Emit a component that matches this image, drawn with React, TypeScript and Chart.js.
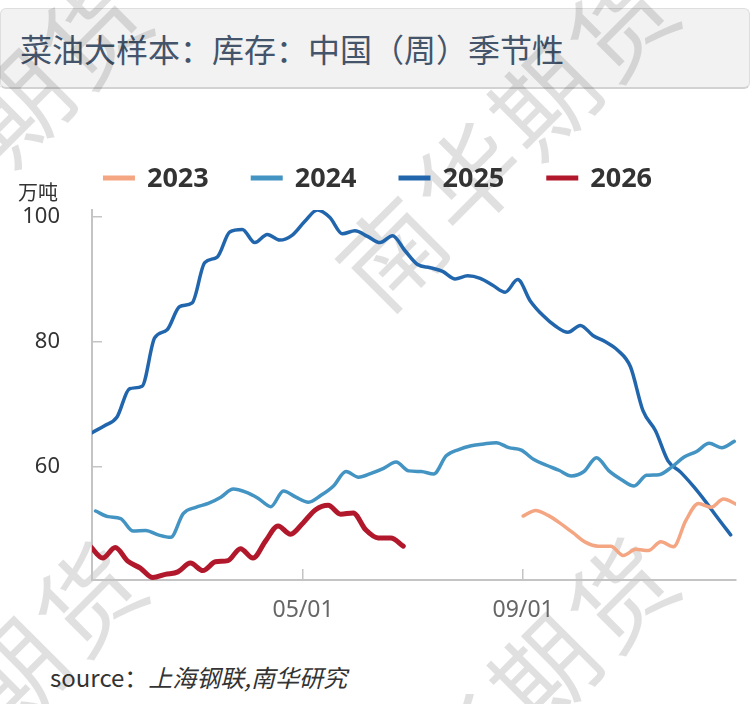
import React, { useEffect, useRef } from "react";
import { Chart, registerables } from "chart.js";

Chart.register(...registerables);

// ---------- data ----------
const SERIES_NAMES = ["2023", "2024", "2025", "2026"];
const SERIES_COLORS = ["#F4A582", "#4393C3", "#2166AC", "#B2182B"];
const SERIES_WIDTHS = [3.5, 3.5, 3.5, 5];
// first weekly observation (month/day) of each series
const START_DATES = ["09/01", "01/05", "01/03", "01/02"];

const VALUES_2023 = [
  52.2, 53.1, 52.3, 51.0, 49.5, 48.0, 47.4, 47.4, 45.9, 46.9, 46.7, 48.1, 47.3,
  51.5, 54.2, 53.6, 54.9, 54.1,
];
const VALUES_2024 = [
  53.0, 52.1, 51.8, 49.8, 49.9, 49.2, 48.8, 52.6, 53.6, 54.2, 55.2, 56.5, 56.0,
  55.0, 53.7, 56.2, 55.2, 54.4, 55.5, 57.0, 59.3, 58.4, 59.0, 59.8, 60.8, 59.4,
  59.3, 58.9, 61.8, 62.8, 63.4, 63.7, 63.9, 63.1, 62.7, 61.2, 60.3, 59.5, 58.6,
  59.3, 61.5, 59.4, 58.0, 57.0, 58.7, 58.8, 60.0, 61.6, 62.5, 63.8, 63.1, 64.1,
];
const VALUES_2025 = [
  65.5, 66.6, 68.0, 72.5, 72.9, 80.6, 81.9, 85.6, 86.2, 92.6, 93.5, 97.5, 97.9,
  95.8, 97.1, 96.2, 97.0, 99.2, 101.0, 99.8, 97.2, 97.7, 96.8, 95.8, 96.9, 94.5,
  92.3, 91.8, 91.2, 90.0, 90.5, 90.1, 89.0, 87.9, 89.9, 86.5, 84.2, 82.5, 81.5,
  82.6, 81.0, 80.0, 78.6, 76.0, 69.0, 65.8, 61.0, 59.2, 57.0, 54.5, 51.8, 49.2,
];
const VALUES_2026 = [
  47.4, 45.5, 47.2, 45.0, 43.9, 42.4, 42.9, 43.3, 44.7, 43.5, 44.9, 45.1, 47.0,
  45.5, 48.2, 50.6, 49.3, 51.1, 53.2, 53.9, 52.5, 52.7, 50.0, 48.7, 48.7, 47.4,
];
const SERIES_VALUES = [VALUES_2023, VALUES_2024, VALUES_2025, VALUES_2026];

const X_TICK_DATES = ["05/01", "09/01"];
const Y_TICKS = [60, 80, 100];
const X_MIN_DATE = "01/03";
const X_MAX_DATE = "12/29";
const Y_MIN = 42;
const Y_MAX = 101;

const TITLE = "菜油大样本：库存：中国（周）季节性";
const UNIT = "万吨";
const SOURCE_LABEL = "source：";
const SOURCE_TEXT = "上海钢联,南华研究";
const WATERMARK = "南华期货";

// ---------- helpers ----------
const CUM_DAYS = [0, 31, 59, 90, 120, 151, 181, 212, 243, 273, 304, 334];
function dayOf(md: string): number {
  const [m, d] = md.split("/").map(Number);
  return CUM_DAYS[m - 1] + d - 1;
}

const FONT = "'Noto Sans', 'Noto Sans CJK SC', sans-serif";
const CJK = "'Noto Sans CJK SC', 'Noto Sans', sans-serif";

const legendPlugin = {
  id: "customLegend",
  afterDraw(chart: any) {
    const ctx = chart.ctx;
    const y = 38;
    const boxW = 32;
    const boxH = 5;
    const gapText = 12;
    const gapItem = 42;
    ctx.save();
    ctx.font = `bold 27px ${FONT}`;
    ctx.textBaseline = "middle";
    const items = chart.data.datasets.map((ds: any) => ({
      label: ds.label,
      color: ds.borderColor,
      w: boxW + gapText + ctx.measureText(ds.label).width,
    }));
    const total =
      items.reduce((s: number, it: any) => s + it.w, 0) + gapItem * (items.length - 1);
    let x = 377.5 - total / 2;
    for (const it of items) {
      ctx.fillStyle = it.color;
      ctx.fillRect(x, y - boxH / 2, boxW, boxH);
      ctx.fillStyle = "#333333";
      ctx.textAlign = "left";
      ctx.fillText(it.label, x + boxW + gapText, y + 1);
      x += it.w + gapItem;
    }
    ctx.restore();
  },
};

function ChartView() {
  const ref = useRef<HTMLCanvasElement | null>(null);
  useEffect(() => {
    if (!ref.current) return;
    const xTickValues = X_TICK_DATES.map(dayOf);
    const datasets = SERIES_NAMES.map((name, si) => {
      const start = dayOf(START_DATES[si]);
      return {
        label: name,
        data: SERIES_VALUES[si].map((v, i) => ({ x: start + 7 * i, y: v })),
        borderColor: SERIES_COLORS[si],
        backgroundColor: SERIES_COLORS[si],
        borderWidth: SERIES_WIDTHS[si],
        pointRadius: 0,
        fill: false,
        cubicInterpolationMode: "monotone" as const,
        borderCapStyle: "round" as const,
        borderJoinStyle: "round" as const,
      };
    });
    const chart = new Chart(ref.current, {
      type: "line",
      data: { datasets },
      options: {
        animation: false,
        responsive: false,
        maintainAspectRatio: false,
        layout: { padding: { top: 70, right: 14, bottom: 0, left: 0 } },
        plugins: { legend: { display: false }, tooltip: { enabled: false } },
        scales: {
          x: {
            type: "linear",
            min: dayOf(X_MIN_DATE),
            max: dayOf(X_MAX_DATE),
            afterBuildTicks: (s: any) => {
              s.ticks = xTickValues.map((v) => ({ value: v }));
            },
            afterFit: (s: any) => {
              s.height = 60;
            },
            ticks: {
              autoSkip: false,
              maxRotation: 0,
              padding: 28,
              color: "#666666",
              font: { size: 23, family: FONT },
              callback: (v: any) => {
                const idx = xTickValues.indexOf(Number(v));
                return idx >= 0 ? X_TICK_DATES[idx] : "";
              },
            },
            grid: {
              drawOnChartArea: false,
              drawTicks: true,
              tickLength: -11,
              color: "#c4c4c4",
              lineWidth: 1.5,
            },
            border: { display: true, color: "#c4c4c4", width: 2 },
          },
          y: {
            type: "linear",
            min: Y_MIN,
            max: Y_MAX,
            afterBuildTicks: (s: any) => {
              s.ticks = Y_TICKS.map((v) => ({ value: v }));
            },
            afterFit: (s: any) => {
              s.width = 92;
            },
            ticks: {
              padding: 42,
              color: "#333333",
              font: { size: 22, family: FONT },
            },
            grid: {
              drawOnChartArea: false,
              drawTicks: true,
              tickLength: -10,
              color: "#c4c4c4",
              lineWidth: 1.5,
            },
            border: { display: true, color: "#c4c4c4", width: 2 },
          },
        },
      },
      plugins: [legendPlugin],
    });
    return () => chart.destroy();
  }, []);
  return (
    <canvas
      ref={ref}
      width={750}
      height={500}
      style={{ position: "absolute", left: 0, top: 140, width: 750, height: 500, zIndex: 2 }}
    />
  );
}

const WATERMARK_CENTERS = [
  [-22, 140],
  [505, 133],
  [-27, 708],
  [505, 704],
];

export default function App() {
  return (
    <div
      style={{
        position: "absolute",
        left: 0,
        top: 0,
        width: 750,
        height: 704,
        overflow: "hidden",
        background: "#ffffff",
        fontFamily: FONT,
      }}
    >
      <div
        style={{
          position: "absolute",
          left: 0,
          top: 8,
          width: 748,
          height: 78,
          background: "#f2f2f2",
          border: "1px solid #dedede",
          borderBottom: "2px solid #d2d2d2",
          borderRadius: 6,
          zIndex: 0,
        }}
      >
        <div
          style={{
            position: "absolute",
            left: 19,
            top: 0,
            height: 78,
            lineHeight: "78px",
            fontSize: 32,
            color: "#44546a",
            fontFamily: CJK,
            whiteSpace: "nowrap",
          }}
        >
          {TITLE}
        </div>
      </div>
      <div style={{ position: "absolute", left: 0, top: 0, width: 750, height: 704, zIndex: 1, pointerEvents: "none" }}>
        {WATERMARK_CENTERS.map(([cx, cy], i) => (
          <div
            key={i}
            style={{
              position: "absolute",
              left: cx,
              top: cy,
              transform: "translate(-50%, -50%) rotate(-45deg)",
              fontSize: 102,
              letterSpacing: 6,
              fontFamily: CJK,
              color: "rgba(0,0,0,0.12)",
              whiteSpace: "nowrap",
              lineHeight: "102px",
            }}
          >
            {WATERMARK}
          </div>
        ))}
      </div>
      <div
        style={{
          position: "absolute",
          left: 18,
          top: 179,
          fontSize: 20,
          lineHeight: "26px",
          color: "#333333",
          fontFamily: CJK,
          zIndex: 3,
        }}
      >
        {UNIT}
      </div>
      <ChartView />
      <div
        style={{
          position: "absolute",
          left: 50,
          top: 661,
          fontSize: 24,
          lineHeight: "32px",
          color: "#333333",
          fontFamily: CJK,
          whiteSpace: "nowrap",
          zIndex: 3,
        }}
      >
        {SOURCE_LABEL}
        <span style={{ fontStyle: "italic" }}>{SOURCE_TEXT}</span>
      </div>
    </div>
  );
}
